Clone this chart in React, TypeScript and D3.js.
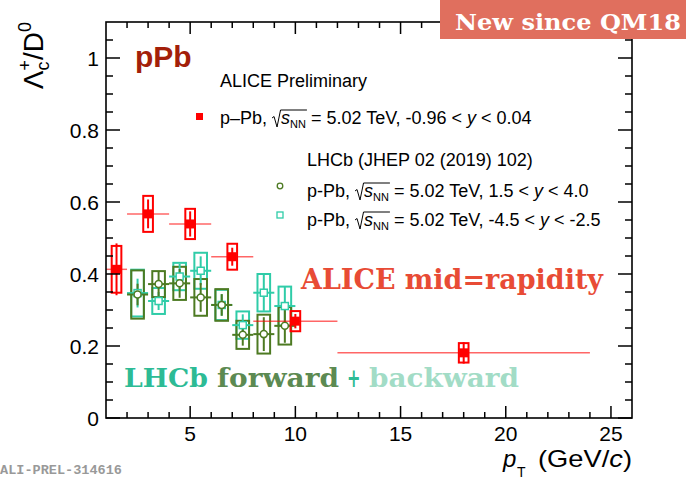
import React from 'react';
import * as d3 from 'd3';

// ALICE p-Pb, mid-rapidity
const alicePt = [1.5, 3, 5, 7, 10, 18];
const aliceLo = [1, 2, 4, 6, 8, 12];
const aliceHi = [2, 4, 6, 8, 12, 24];
const aliceVal = [0.413, 0.567, 0.539, 0.448, 0.269, 0.181];
const aliceStat = [0.072, 0.04, 0.035, 0.025, 0.02, 0.03];
const aliceSyst = [0.065, 0.05, 0.042, 0.036, 0.028, 0.027];

// LHCb p-Pb forward / backward
const lhcbPt = [2.5, 3.5, 4.5, 5.5, 6.5, 7.5, 8.5, 9.5];
const fwdVal = [0.343, 0.372, 0.374, 0.335, 0.314, 0.231, 0.233, 0.256];
const fwdStat = [0.03, 0.035, 0.04, 0.04, 0.03, 0.03, 0.047, 0.047];
const fwdSyst = [0.067, 0.036, 0.046, 0.051, 0.044, 0.039, 0.054, 0.052];
const bwdVal = [0.347, 0.325, 0.393, 0.409, 0.314, 0.258, 0.348, 0.311];
const bwdStat = [0.04, 0.025, 0.035, 0.04, 0.03, 0.03, 0.05, 0.053];
const bwdSyst = [0.065, 0.036, 0.038, 0.05, 0.042, 0.038, 0.052, 0.054];

const xDomain = [1, 26];
const yDomain = [0, 1.1];
const xMajor = [5, 10, 15, 20, 25];
const yMajor = [0, 0.2, 0.4, 0.6, 0.8, 1];

const W = 686, H = 479;
const FL = 106, FR = 632, FT = 22, FB = 418;
const SANS = '"Liberation Sans", Arial, Helvetica, sans-serif';
const SLAB = '"DejaVu Serif", serif';

const RED = '#ff0000';
const GREEN = '#4d7a22';
const TEAL = '#2fcca8';

let _ctx: CanvasRenderingContext2D | null = null;
function tw(s: string, font: string): number {
  if (!_ctx) _ctx = document.createElement('canvas').getContext('2d');
  if (!_ctx) return s.length * 9;
  _ctx.font = font;
  return _ctx.measureText(s).width;
}

function SqrtRow({ x0, b, prefix, lo, hi }: { x0: number; b: number; prefix: string; lo: string; hi: string }) {
  const fs = 18;
  const F = `${fs}px "Liberation Sans"`;
  const wPre = tw(prefix + ' ', F);
  const xr = x0 + wPre;
  const xs = xr + 9;
  const ws = tw('s', `italic ${F}`);
  const xn = xs + ws;
  const wn = tw('NN', `11px "Liberation Sans"`);
  const xe = xn + wn + 1;
  const xrest = xe + 4;
  return (
    <g fontFamily={SANS} fontSize={fs} fill="#000">
      <text x={x0} y={b}>{prefix}</text>
      <path
        d={`M${xr},${b - 6} L${xr + 2},${b - 7.5} L${xr + 5},${b + 3} L${xr + 8.5},${b - 14} L${xe},${b - 14}`}
        fill="none"
        stroke="#000"
        strokeWidth={1}
      />
      <text x={xs} y={b} fontStyle="italic">s</text>
      <text x={xn} y={b + 4} fontSize={11}>NN</text>
      <text x={xrest} y={b}>
        {'= 5.02 TeV, ' + lo + ' < '}
        <tspan fontStyle="italic">y</tspan>
        {' < ' + hi}
      </text>
    </g>
  );
}

export default function App() {
  const x = d3.scaleLinear().domain(xDomain).range([FL, FR]);
  const y = d3.scaleLinear().domain(yDomain).range([FB, FT]);

  const xMinor = d3.range(xDomain[0] + 1, xDomain[1], 1).filter((v) => !xMajor.includes(v));
  const yMinor = d3.range(0.05, 1.1, 0.05).map((v) => +v.toFixed(2)).filter((v) => !yMajor.some((m) => Math.abs(m - v) < 1e-6));

  const boxHalfA = 0.23;
  const boxHalfL = 0.3;

  // y-axis label pieces
  const YF = 28, YS = 18;
  const wL = tw('Λ', `${YF}px "Liberation Sans"`);
  const wc = Math.max(tw('c', `${YS}px "Liberation Sans"`), tw('+', `${YS}px "Liberation Sans"`));
  const wD = tw('/D', `${YF}px "Liberation Sans"`);
  const w0 = tw('0', `${YS}px "Liberation Sans"`);
  const yLabLen = wL + wc + wD + w0;

  const lhcbSeries = [
    { val: bwdVal, stat: bwdStat, syst: bwdSyst, color: TEAL, marker: 'square' },
    { val: fwdVal, stat: fwdStat, syst: fwdSyst, color: GREEN, marker: 'circle' },
  ];

  return (
    <svg width={W} height={H} style={{ position: 'absolute', left: 0, top: 0, display: 'block', background: '#fff' }}>
      <rect x={0} y={0} width={W} height={H} fill="#fff" />

      {/* LHCb boxes */}
      {lhcbSeries.map((s, si) => (
        <g key={'lb' + si}>
          {lhcbPt.map((pt, i) => (
            <rect
              key={i}
              x={x(pt - boxHalfL)}
              width={x(pt + boxHalfL) - x(pt - boxHalfL)}
              y={y(s.val[i] + s.syst[i])}
              height={y(s.val[i] - s.syst[i]) - y(s.val[i] + s.syst[i])}
              fill="none"
              stroke={s.color}
              strokeWidth={2}
            />
          ))}
        </g>
      ))}
      {/* LHCb error bars */}
      {lhcbSeries.map((s, si) => (
        <g key={'le' + si} stroke={s.color} strokeWidth={2}>
          {lhcbPt.map((pt, i) => (
            <g key={i}>
              <line x1={x(pt - 0.5)} x2={x(pt + 0.5)} y1={y(s.val[i])} y2={y(s.val[i])} />
              <line x1={x(pt)} x2={x(pt)} y1={y(s.val[i] + s.stat[i])} y2={y(s.val[i] - s.stat[i])} />
            </g>
          ))}
        </g>
      ))}
      {/* LHCb markers */}
      {lhcbSeries.map((s, si) => (
        <g key={'lm' + si} stroke={s.color} strokeWidth={1.5} fill="#fff">
          {lhcbPt.map((pt, i) =>
            s.marker === 'circle' ? (
              <circle key={i} cx={x(pt)} cy={y(s.val[i])} r={3.5} />
            ) : (
              <rect key={i} x={x(pt) - 3.5} y={y(s.val[i]) - 3.5} width={7} height={7} />
            )
          )}
        </g>
      ))}

      {/* ALICE */}
      <g>
        {alicePt.map((pt, i) => (
          <g key={i}>
            <line
              x1={Math.max(FL, x(aliceLo[i]))}
              x2={x(aliceHi[i])}
              y1={y(aliceVal[i])}
              y2={y(aliceVal[i])}
              stroke={RED}
              strokeOpacity={0.6}
              strokeWidth={1.5}
            />
            <rect
              x={x(pt - boxHalfA)}
              width={x(pt + boxHalfA) - x(pt - boxHalfA)}
              y={y(aliceVal[i] + aliceSyst[i])}
              height={y(aliceVal[i] - aliceSyst[i]) - y(aliceVal[i] + aliceSyst[i])}
              fill="none"
              stroke={RED}
              strokeWidth={2}
            />
            <line
              x1={x(pt)}
              x2={x(pt)}
              y1={y(aliceVal[i] + aliceStat[i])}
              y2={y(aliceVal[i] - aliceStat[i])}
              stroke={RED}
              strokeWidth={2}
            />
            <rect x={x(pt) - 4.5} y={y(aliceVal[i]) - 4.5} width={9} height={9} fill={RED} />
          </g>
        ))}
      </g>

      {/* Frame */}
      <rect x={FL} y={FT} width={FR - FL} height={FB - FT} fill="none" stroke="#000" strokeWidth={1.6} />
      <g stroke="#000" strokeWidth={1.5}>
        {xMajor.map((v) => (
          <g key={'xM' + v}>
            <line x1={x(v)} x2={x(v)} y1={FB} y2={FB - 12} />
            <line x1={x(v)} x2={x(v)} y1={FT} y2={FT + 12} />
          </g>
        ))}
        {xMinor.map((v) => (
          <g key={'xm' + v}>
            <line x1={x(v)} x2={x(v)} y1={FB} y2={FB - 6} />
            <line x1={x(v)} x2={x(v)} y1={FT} y2={FT + 6} />
          </g>
        ))}
        {yMajor.map((v) => (
          <g key={'yM' + v}>
            <line x1={FL} x2={FL + 14} y1={y(v)} y2={y(v)} />
            <line x1={FR} x2={FR - 14} y1={y(v)} y2={y(v)} />
          </g>
        ))}
        {yMinor.map((v) => (
          <g key={'ym' + v}>
            <line x1={FL} x2={FL + 7} y1={y(v)} y2={y(v)} />
            <line x1={FR} x2={FR - 7} y1={y(v)} y2={y(v)} />
          </g>
        ))}
      </g>
      <g fontFamily={SANS} fontSize={21} fill="#000">
        {xMajor.map((v) => (
          <text key={'xl' + v} x={x(v)} y={441} textAnchor="middle">{String(v)}</text>
        ))}
        {yMajor.map((v) => (
          <text key={'yl' + v} x={99} y={y(v) + 7.5} textAnchor="end">
            {v === 0 ? '0' : v === 1 ? '1' : v.toFixed(1)}
          </text>
        ))}
      </g>

      {/* Axis titles */}
      <g fontFamily={SANS} fill="#000">
        <text x={503} y={467} fontSize={24} fontStyle="italic">p</text>
        <text x={517} y={477} fontSize={14}>T</text>
        <text x={538} y={467} fontSize={24} textLength={94} lengthAdjust="spacingAndGlyphs">
          {'(GeV/'}
          <tspan fontStyle="italic">c</tspan>
          {')'}
        </text>
      </g>
      <g transform={`translate(43, ${22 + yLabLen}) rotate(-90)`} fontFamily={SANS} fill="#000">
        <text x={0} y={0} fontSize={YF}>Λ</text>
        <text x={wL} y={6} fontSize={YS}>c</text>
        <text x={wL} y={-12} fontSize={YS}>+</text>
        <text x={wL + wc} y={0} fontSize={YF}>/D</text>
        <text x={wL + wc + wD} y={-12} fontSize={YS}>0</text>
      </g>

      {/* pPb */}
      <text x={135} y={67} fontFamily={SANS} fontWeight="bold" fontSize={30} fill="#a31f0a">pPb</text>

      {/* Legend */}
      <text x={220} y={87} fontFamily={SANS} fontSize={18} fill="#000">ALICE Preliminary</text>
      <rect x={196} y={113} width={7} height={7} fill={RED} />
      <SqrtRow x0={220} b={124} prefix="p–Pb," lo="-0.96" hi="0.04" />
      <text x={307} y={166} fontFamily={SANS} fontSize={18} fill="#000">LHCb (JHEP 02 (2019) 102)</text>
      <circle cx={280} cy={186} r={2.8} fill="none" stroke={GREEN} strokeWidth={1.3} />
      <SqrtRow x0={307} b={197} prefix="p-Pb," lo="1.5" hi="4.0" />
      <rect x={277} y={212} width={6} height={6} fill="none" stroke={TEAL} strokeWidth={1.3} />
      <SqrtRow x0={307} b={226} prefix="p-Pb," lo="-4.5" hi="-2.5" />

      {/* Annotations */}
      <text x={301} y={289} fontFamily={SLAB} fontWeight="bold" fontSize={27} fill="#e84b35" textLength={302} lengthAdjust="spacingAndGlyphs">ALICE mid=rapidity</text>
      <g fontFamily={SLAB} fontWeight="bold" fontSize={26}>
        <text x={124} y={387} fill="#2dbb95" textLength={84} lengthAdjust="spacingAndGlyphs">LHCb</text>
        <text x={217} y={387} fill="#5c8a52" textLength={122} lengthAdjust="spacingAndGlyphs">forward</text>
        <text x={347} y={387} fill="#2dbb95" textLength={13.5} lengthAdjust="spacingAndGlyphs">+</text>
        <text x={369} y={387} fill="#a2dcc6" textLength={150} lengthAdjust="spacingAndGlyphs">backward</text>
      </g>

      {/* Banner */}
      <rect x={440} y={0} width={W - 440} height={39} fill="#e06f5e" />
      <text x={455} y={30} fontFamily={SLAB} fontWeight="bold" fontSize={23} fill="#fff" textLength={226} lengthAdjust="spacingAndGlyphs">New since QM18</text>

      <text x={0} y={474} fontFamily={'"Liberation Mono", monospace'} fontWeight="bold" fontSize={12} fill="#999" textLength={122} lengthAdjust="spacingAndGlyphs">ALI-PREL-314616</text>
    </svg>
  );
}
